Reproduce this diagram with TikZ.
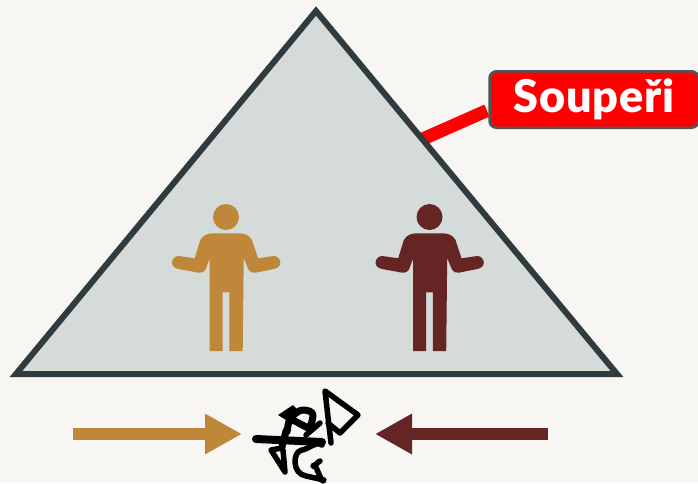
\documentclass[tikz,border=0pt]{standalone}
\usepackage{fontspec}
\setmainfont{Lato}
\newfontfamily\tagfont[LetterSpace=1.5]{Lato Black}
\usetikzlibrary{arrows.meta,positioning}
\definecolor{mPaper}{HTML}{F7F6F2}
\definecolor{mSlate}{HTML}{2F3B3E}
\definecolor{mMist}{HTML}{D5DBD9}
\definecolor{mOchre}{HTML}{BF873A}
\definecolor{mWine}{HTML}{652525}
\tikzset{
  tag/.style   = {draw=mSlate!85, fill=red, line width=2.5pt, rounded corners=7pt, text=white,
                  font=\fontsize{45}{45}\selectfont\tagfont, minimum width=209pt, minimum height=56.5pt, inner sep=0pt},
  lead/.style  = {draw=red, line width=13pt},
  push/.style  = {-{Triangle[length=37pt,width=38pt]}, line width=12pt},
  inkl/.style  = {draw=black, line width=5.5pt, line cap=round, line join=round},
  person/.pic  = {
    \fill (0,0) circle (13);
    \fill (-12.3,16.3) -- (12.7,16.3) to[out=0,in=120] (26,23) -- (32,41.3) -- (47.7,39)
      to[out=0,in=90] (54.3,45.7) to[out=-90,in=10] (47.7,52) -- (29.3,55.7)
      to[out=180,in=-60] (22.7,53) -- (17.7,41.3) -- (16.7,134) -- (3.3,134) -- (3.3,75.3)
      -- (-3.3,75.3) -- (-3.3,134) -- (-16.3,134) -- (-16.3,41.3) -- (-20.7,53)
      to[out=-120,in=0] (-27.3,55.7) -- (-47.3,52) to[out=170,in=-90] (-54,45.7)
      to[out=90,in=180] (-47.3,39) -- (-31.3,41.3) -- (-25.7,23) to[out=60,in=180] cycle;
  },
}
\begin{document}
\begin{tikzpicture}[x=1pt,y=-1pt]
  \useasboundingbox[fill=mPaper] (0,0) rectangle (698,483);
  % label
  \coordinate (foot) at (415,142.4);
  \node[tag] (souperi) at (594,99.5) {Soupeři};
  \draw[lead, shorten >=1.5pt] (foot) -- ([yshift=-10.5pt]souperi.west);
  % triangle
  \draw[draw=mSlate, fill=mMist, line width=6pt, line join=miter] (316,11) -- (617,374) -- (16,374) -- cycle;
  \pic[mOchre] at (226,217) {person};
  \pic[mWine] at (429.5,217) {person};
  % arrows
  \coordinate (la) at (73,434);
  \coordinate (lb) at (242,434);
  \coordinate (ra) at (548,434);
  \coordinate (rb) at (375,434);
  \draw[push, draw=mOchre, color=mOchre] (la) -- (lb);
  \draw[push, draw=mWine, color=mWine] (ra) -- (rb);
  % scribble
  \draw[inkl] (331,443) -- (325,391) -- (358,415) -- (340,433) -- (328,423);
  \draw[inkl, line width=8pt] (256,439) -- (322,442);
  \draw[inkl, line width=7pt] (282,447) -- (286,431) to[out=-75,in=205] (293,415) to[out=25,in=180] (303,410)
    to[out=0,in=80] (313,416) to[out=-100,in=40] (308,428) -- (291,419);
  \fill (278,415) -- (293,405) -- (300,412) -- (286,420) -- cycle;
  \draw[inkl] (320,423) -- (306,435);
  \draw[inkl] (282,448) -- (271,450) -- (285,472) -- (283,450);
  \draw[inkl] (322,445) to[out=150,in=10] (302,450) to[out=190,in=90] (295,462)
    to[out=-90,in=170] (306,476) -- (324,480) to[out=-110,in=70] (313,466) to[out=-60,in=190] (320,461);
\end{tikzpicture}
\end{document}
